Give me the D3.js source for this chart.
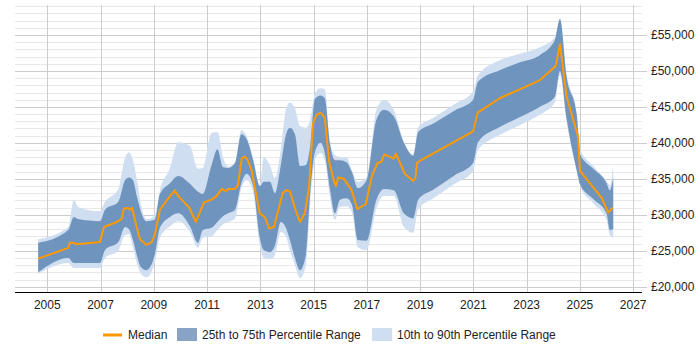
<!DOCTYPE html>
<html>
<head>
<meta charset="utf-8">
<script src="https://cdn.jsdelivr.net/npm/d3@7"></script>
<style>
  body { margin: 0; background: #fff; }
  svg { font-family: Arial, "Liberation Sans", sans-serif; }
</style>
</head>
<body>
<div id="chart"></div>
<script>
// percentile bands, sampled at these dates (decimal years)
const bandYears = [2004.66, 2005.79, 2006.00, 2006.16, 2006.98, 2007.17, 2007.67, 2007.92, 2008.07, 2008.22,
  2008.37, 2008.52, 2008.73, 2009.04, 2009.23, 2009.61, 2009.92, 2010.36, 2010.66, 2010.84,
  2011.17, 2011.39, 2011.60, 2011.79, 2012.05, 2012.29, 2012.49, 2012.73, 2012.98, 2013.13,
  2013.36, 2013.55, 2013.77, 2013.96, 2014.11, 2014.30, 2014.49, 2014.71, 2014.88, 2015.05,
  2015.26, 2015.42, 2015.61, 2015.80, 2015.99, 2016.24, 2016.44, 2016.66, 2016.99, 2017.36,
  2017.64, 2018.01, 2018.39, 2018.74, 2018.93, 2019.50, 2020.30, 2020.99, 2021.17, 2021.99,
  2022.75, 2023.49, 2024.06, 2024.25, 2024.50, 2024.88, 2025.02, 2025.50, 2026.00, 2026.12,
  2026.25];
const p90 = [26600, 28300, 32100, 31100, 30500, 31800, 33600, 37900, 38700, 37600,
  34800, 31400, 29400, 29800, 33400, 36500, 40100, 39600, 36400, 36500,
  41400, 41500, 38000, 36700, 37300, 41800, 40900, 37900, 34100, 38000,
  36900, 35100, 39000, 44600, 45600, 44800, 42300, 42100, 43400, 46900,
  47600, 47500, 40100, 38300, 38000, 38000, 36200, 34600, 35200, 44600,
  46000, 44600, 40100, 38400, 42200, 43500, 45400, 47100, 49400, 51500,
  52400, 53300, 54700, 57300, 49600, 44100, 39000, 36800, 34700, 34100,
  36900];
const p75 = [26100, 27900, 29700, 29400, 29100, 30700, 31800, 34800, 35200, 34800,
  32500, 30400, 29100, 29300, 32900, 34400, 35400, 34300, 33200, 32900,
  36900, 39100, 36600, 36500, 37200, 41200, 40500, 37600, 34000, 34600,
  34600, 33000, 36900, 41100, 42100, 41200, 36800, 36900, 39700, 46100,
  46600, 46200, 40000, 37600, 37600, 37300, 35900, 33700, 34800, 43200,
  44600, 43700, 40000, 38200, 41500, 42700, 44500, 46000, 48500, 50100,
  51200, 52200, 54300, 57200, 49200, 43900, 38300, 36400, 34400, 33400,
  35100];
const p25 = [22000, 24000, 23300, 23300, 23300, 25100, 26200, 28300, 28000, 26500,
  24300, 22700, 22300, 24500, 28200, 29700, 30200, 28400, 26100, 27900,
  28200, 29000, 29800, 30200, 30700, 34400, 35700, 34000, 26800, 25100,
  24800, 25700, 29000, 28200, 26500, 24000, 22300, 24400, 33400, 38700,
  40000, 38600, 33700, 30200, 32100, 32300, 31400, 26500, 26400, 32100,
  33600, 33400, 30200, 29500, 32100, 33500, 35500, 37200, 40100, 42200,
  43600, 45000, 46400, 50000, 43400, 36200, 34100, 32200, 30200, 27900,
  28000];
const p10 = [21800, 23300, 22600, 22600, 22600, 24000, 25000, 27200, 27300, 25400,
  23200, 21800, 21300, 23400, 26800, 28400, 29100, 27600, 25400, 26800,
  27000, 27900, 28700, 29000, 29500, 33700, 34800, 33200, 25700, 24000,
  23800, 24400, 27600, 27000, 25100, 23000, 21200, 23000, 32100, 37600,
  38600, 37600, 32600, 29300, 31100, 31200, 30400, 25500, 25100, 30900,
  32600, 32600, 28300, 27500, 30800, 32300, 34300, 36100, 39000, 41100,
  42500, 43900, 45700, 49400, 42900, 35900, 33900, 31600, 29300, 27200,
  26800];

// median salary
const medianYears = [2004.66, 2005.79, 2005.85, 2006.00, 2006.11, 2006.98, 2007.13, 2007.61, 2007.79, 2007.88,
  2008.04, 2008.10, 2008.18, 2008.36, 2008.48, 2008.73, 2008.92, 2009.04, 2009.23, 2009.61,
  2009.79, 2009.92, 2010.33, 2010.58, 2010.88, 2011.17, 2011.36, 2011.55, 2011.71, 2011.82,
  2012.05, 2012.16, 2012.30, 2012.42, 2012.53, 2012.67, 2012.98, 2013.17, 2013.33, 2013.51,
  2013.84, 2013.96, 2014.11, 2014.30, 2014.49, 2014.67, 2014.83, 2014.98, 2015.11, 2015.26,
  2015.42, 2015.59, 2015.77, 2015.84, 2015.92, 2016.14, 2016.43, 2016.64, 2016.96, 2017.18,
  2017.40, 2017.55, 2017.65, 2018.01, 2018.09, 2018.43, 2018.74, 2018.82, 2018.89, 2020.99,
  2021.16, 2021.99, 2023.49, 2024.09, 2024.25, 2024.50, 2024.93, 2025.00, 2025.81, 2026.06,
  2026.22];
const medianValues = [23900, 25400, 26100, 26100, 25900, 26200, 28300, 29000, 29400, 30900,
  30900, 30700, 31000, 28300, 26600, 25800, 26200, 27200, 30700, 32600,
  33400, 32600, 31000, 29000, 31700, 32100, 32600, 33600, 33300, 33600,
  33600, 34100, 37800, 38100, 37600, 36200, 30200, 29700, 28100, 28300,
  33000, 33400, 33300, 30900, 29000, 30200, 33900, 42700, 43900, 44200,
  43500, 37300, 34600, 34000, 35200, 35000, 33400, 30800, 31500, 35300,
  37200, 37400, 38400, 37800, 38500, 35700, 34700, 35100, 37300, 41600,
  44200, 46200, 48700, 50700, 53700, 46400, 40900, 36100, 32400, 30300,
  31000];

const xTicks = [2005, 2007, 2009, 2011, 2013, 2015, 2017, 2019, 2021, 2023, 2025, 2027];
const yTicks = [20000, 25000, 30000, 35000, 40000, 45000, 50000, 55000];

const legendLabels = ["Median", "25th to 75th Percentile Range", "10th to 90th Percentile Range"];

// layout
let width = 700, height = 350;
let plotLeft = 15, plotRight = 642, plotTop = 5, plotBottom = 292;

let svg = d3.select("#chart").append("svg")
  .attr("width", width)
  .attr("height", height);

let x = d3.scaleLinear()
  .domain([2003.79, 2027.33])
  .range([plotLeft, plotRight]);

let y = d3.scaleLinear()
  .domain([20000, 55000])
  .range([286.7, 35]);

// horizontal grid: minor every 1000, major every 5000
let gridVals = d3.range(19000, 60000, 1000).filter(v => y(v) >= plotTop && y(v) <= plotBottom);
svg.append("g")
  .selectAll("line")
  .data(gridVals)
  .join("line")
  .attr("x1", plotLeft)
  .attr("x2", plotRight)
  .attr("y1", d => Math.round(y(d)) + 0.5)
  .attr("y2", d => Math.round(y(d)) + 0.5)
  .attr("stroke", d => d % 5000 === 0 ? "#cccccc" : "#e8e8e8")
  .attr("stroke-width", 1);

// vertical grid at labelled years
svg.append("g")
  .selectAll("line")
  .data(xTicks)
  .join("line")
  .attr("x1", d => Math.round(x(d)) + 0.5)
  .attr("x2", d => Math.round(x(d)) + 0.5)
  .attr("y1", plotTop)
  .attr("y2", plotBottom)
  .attr("stroke", "#cccccc");

let bandData = bandYears.map((yr, i) => ({yr: yr, p10: p10[i], p25: p25[i], p75: p75[i], p90: p90[i]}));

let outer = d3.area()
  .x(d => x(d.yr))
  .y0(d => y(d.p10))
  .y1(d => y(d.p90))
  .curve(d3.curveMonotoneX);

let inner = d3.area()
  .x(d => x(d.yr))
  .y0(d => y(d.p25))
  .y1(d => y(d.p75))
  .curve(d3.curveMonotoneX);

svg.append("path")
  .datum(bandData)
  .attr("d", outer)
  .attr("fill", "#cfdef0");

svg.append("path")
  .datum(bandData)
  .attr("d", inner)
  .attr("fill", "#6f94bd");

let medianLine = d3.line()
  .x((d, i) => x(medianYears[i]))
  .y(d => y(d));

svg.append("path")
  .datum(medianValues)
  .attr("d", medianLine)
  .attr("fill", "none")
  .attr("stroke", "#ff9900")
  .attr("stroke-width", 2)
  .attr("stroke-linejoin", "round");

// x axis
svg.append("line")
  .attr("x1", plotLeft)
  .attr("x2", plotRight)
  .attr("y1", plotBottom + 0.5)
  .attr("y2", plotBottom + 0.5)
  .attr("stroke", "#000");

svg.append("g")
  .selectAll("text")
  .data(xTicks)
  .join("text")
  .attr("x", d => x(d))
  .attr("y", 309)
  .attr("text-anchor", "middle")
  .style("font-size", "12px")
  .attr("fill", "#222")
  .text(d => d);

// y axis on the right
let fmt = d3.format(",");
svg.append("g")
  .selectAll("line")
  .data(yTicks)
  .join("line")
  .attr("x1", plotRight)
  .attr("x2", plotRight + 5)
  .attr("y1", d => Math.round(y(d)) + 0.5)
  .attr("y2", d => Math.round(y(d)) + 0.5)
  .attr("stroke", "#cccccc");

svg.append("g")
  .selectAll("text")
  .data(yTicks)
  .join("text")
  .attr("x", 651)
  .attr("y", d => y(d) + 4)
  .style("font-size", "12px")
  .attr("fill", "#222")
  .text(d => "£" + fmt(d));

// legend
let legend = svg.append("g").style("font-size", "12px").attr("fill", "#222");
legend.append("line")
  .attr("x1", 103).attr("x2", 122)
  .attr("y1", 335).attr("y2", 335)
  .attr("stroke", "#ff9900")
  .attr("stroke-width", 3);
legend.append("text").attr("x", 128).attr("y", 339).text(legendLabels[0]);
legend.append("rect")
  .attr("x", 177).attr("y", 328).attr("width", 20).attr("height", 13)
  .attr("fill", "#87a4c6");
legend.append("text").attr("x", 202).attr("y", 339).text(legendLabels[1]);
legend.append("rect")
  .attr("x", 372).attr("y", 328).attr("width", 20).attr("height", 13)
  .attr("fill", "#cfdef0");
legend.append("text").attr("x", 397).attr("y", 339).text(legendLabels[2]);
</script>
</body>
</html>
